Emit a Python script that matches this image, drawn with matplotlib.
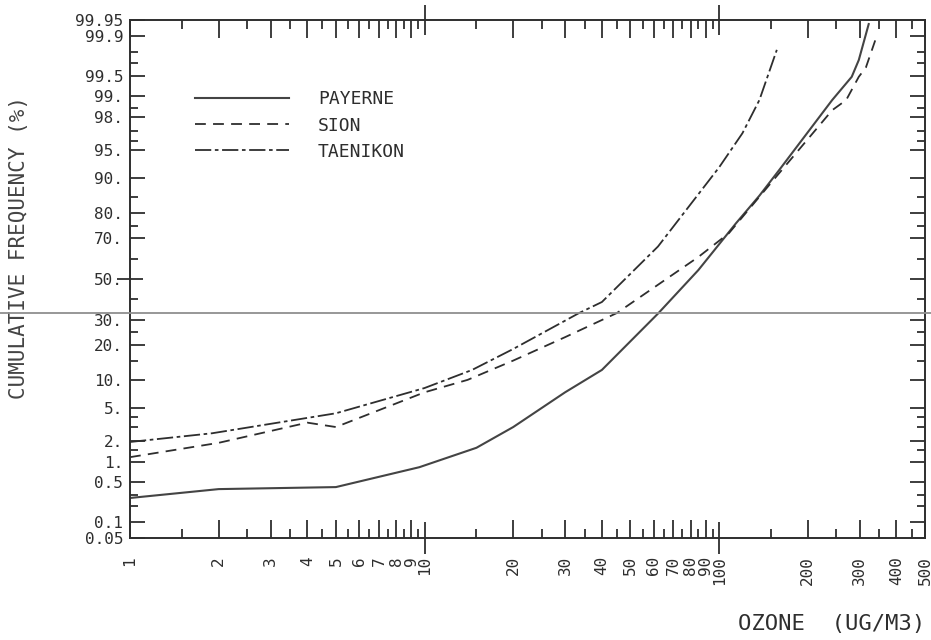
import math
from statistics import NormalDist

import numpy as np
import matplotlib
matplotlib.use("Agg")
import matplotlib.pyplot as plt
from matplotlib.ticker import NullFormatter

plt.rcParams["font.family"] = ["DejaVu Sans Mono"]

# ozone concentration (ug/m3) vs cumulative frequency (%)
payerne_x = [1, 2, 5, 9.6, 15, 20, 30, 40, 62, 85, 114, 137, 160, 242, 282, 298, 322]
payerne_p = [0.27, 0.38, 0.41, 0.84, 1.6, 3.0, 7.5, 12.4, 33, 54.5, 76, 85.5, 91.7, 98.85, 99.49, 99.73, 99.94]

sion_x = [1, 2, 4, 5, 10, 14, 20, 30, 45, 85, 108, 153, 242, 270, 298, 315, 341]
sion_p = [1.18, 1.87, 3.4, 3.0, 7.5, 10.0, 15.0, 23, 33.3, 61, 72, 89.6, 98.4, 98.85, 99.49, 99.64, 99.89]

taenikon_x = [1, 1.9, 5, 10, 14.5, 20, 33.5, 40, 62, 100, 120, 137, 157]
taenikon_p = [1.92, 2.5, 4.4, 8.3, 12.4, 18.7, 33.3, 38.5, 66, 92.2, 96.8, 98.85, 99.82]

y_major = [0.05, 0.1, 0.5, 1, 2, 5, 10, 20, 30, 50, 70, 80, 90, 95, 98, 99, 99.5, 99.9, 99.95]
y_labels = ["0.05", "0.1", "0.5", "1.", "2.", "5.", "10.", "20.", "30.", "50.", "70.",
            "80.", "90.", "95.", "98.", "99.", "99.5", "99.9", "99.95"]
y_minor = [0.2, 0.3, 1.5, 3, 4, 15, 25, 40, 60, 75, 85, 96, 97, 98.5, 99.7, 99.8]

x_major = [1, 2, 3, 4, 5, 6, 7, 8, 9, 10, 20, 30, 40, 50, 60, 70, 80, 90, 100, 200, 300, 400, 500]
x_labels = [str(v) for v in x_major]
x_minor = [1.5, 2.5, 3.5, 4.5, 5.5, 6.5, 7.5, 8.5, 9.5,
           15, 25, 35, 45, 55, 65, 75, 85, 95, 150, 250, 350, 450]

nd = NormalDist()
_ppf = np.vectorize(nd.inv_cdf, otypes=[float])
_erf = np.vectorize(math.erf, otypes=[float])


def prob_forward(p):
    p = np.clip(np.asarray(p, dtype=float) / 100.0, 1e-7, 1 - 1e-7)
    return _ppf(p)


def prob_inverse(z):
    z = np.asarray(z, dtype=float)
    return 50.0 * (1.0 + _erf(z / math.sqrt(2)))


ink = "#2e2e2e"
fig = plt.figure(figsize=(9.31, 6.40), dpi=100)
ax = fig.add_axes([130 / 931, 1 - 538 / 640, 795 / 931, 518 / 640])

ax.plot(payerne_x, payerne_p, color="#444444", lw=1.5, ls="-", label="PAYERNE")
ax.plot(sion_x, sion_p, color=ink, lw=1.3, ls=(0, (6, 4)), label="SION")
ax.plot(taenikon_x, taenikon_p, color=ink, lw=1.3, ls=(0, (9, 2, 2, 2)), label="TAENIKON")

ax.set_xscale("log")
ax.set_yscale("function", functions=(prob_forward, prob_inverse))
ax.set_xlim(1, 500)
ax.set_ylim(0.05, 99.95)

ax.set_xticks(x_major, x_labels, rotation=90)
ax.set_xticks(x_minor, minor=True)
ax.set_yticks(y_major, y_labels)
ax.set_yticks(y_minor, minor=True)
ax.xaxis.set_minor_formatter(NullFormatter())
ax.yaxis.set_minor_formatter(NullFormatter())

ax.tick_params(which="both", direction="in", top=True, right=True, color=ink, width=1.3,
               labelcolor=ink)
ax.tick_params(axis="x", which="major", length=13, pad=13, labelsize=11.5)
ax.tick_params(axis="x", which="minor", length=6.5)
ax.tick_params(axis="y", which="major", length=11, pad=5, labelsize=11.5)
ax.tick_params(axis="y", which="minor", length=5.5)
for s in ax.spines.values():
    s.set_color(ink)
    s.set_linewidth(1.4)

# crossing ticks at the decades and at the median
xt = ax.xaxis.get_major_ticks()
for v in (10, 100):
    t = xt[x_major.index(v)]
    t.tick1line.set_marker("|")
    t.tick1line.set_markersize(23)
    t.tick2line.set_marker("|")
    t.tick2line.set_markersize(21)
yt = ax.yaxis.get_major_ticks()
t = yt[y_major.index(50)]
t.tick1line.set_marker("_")
t.tick1line.set_markersize(19)

leg = ax.legend(loc="upper left", bbox_to_anchor=(0.082, 0.864), frameon=False,
                fontsize=13, handlelength=5.2, handletextpad=1.6, labelspacing=0.45,
                borderpad=0, borderaxespad=0)
for txt in leg.get_texts():
    txt.set_color(ink)

ax.set_ylabel("CUMULATIVE FREQUENCY (%)", fontsize=15, color="#444444")
ax.yaxis.set_label_coords((29 - 130) / 795, 0.56)
ax.set_xlabel("OZONE  (UG/M3)", fontsize=16, color=ink, loc="right", va="center")
ax.xaxis.set_label_coords(1.0, (538 - 624) / 518)

# scanner streak across the sheet
fig.add_artist(plt.Line2D([0, 1], [1 - 313 / 640] * 2, transform=fig.transFigure,
                          color="#8f8f8f", lw=1.3, zorder=10))

fig.savefig("out.png", dpi=100)
